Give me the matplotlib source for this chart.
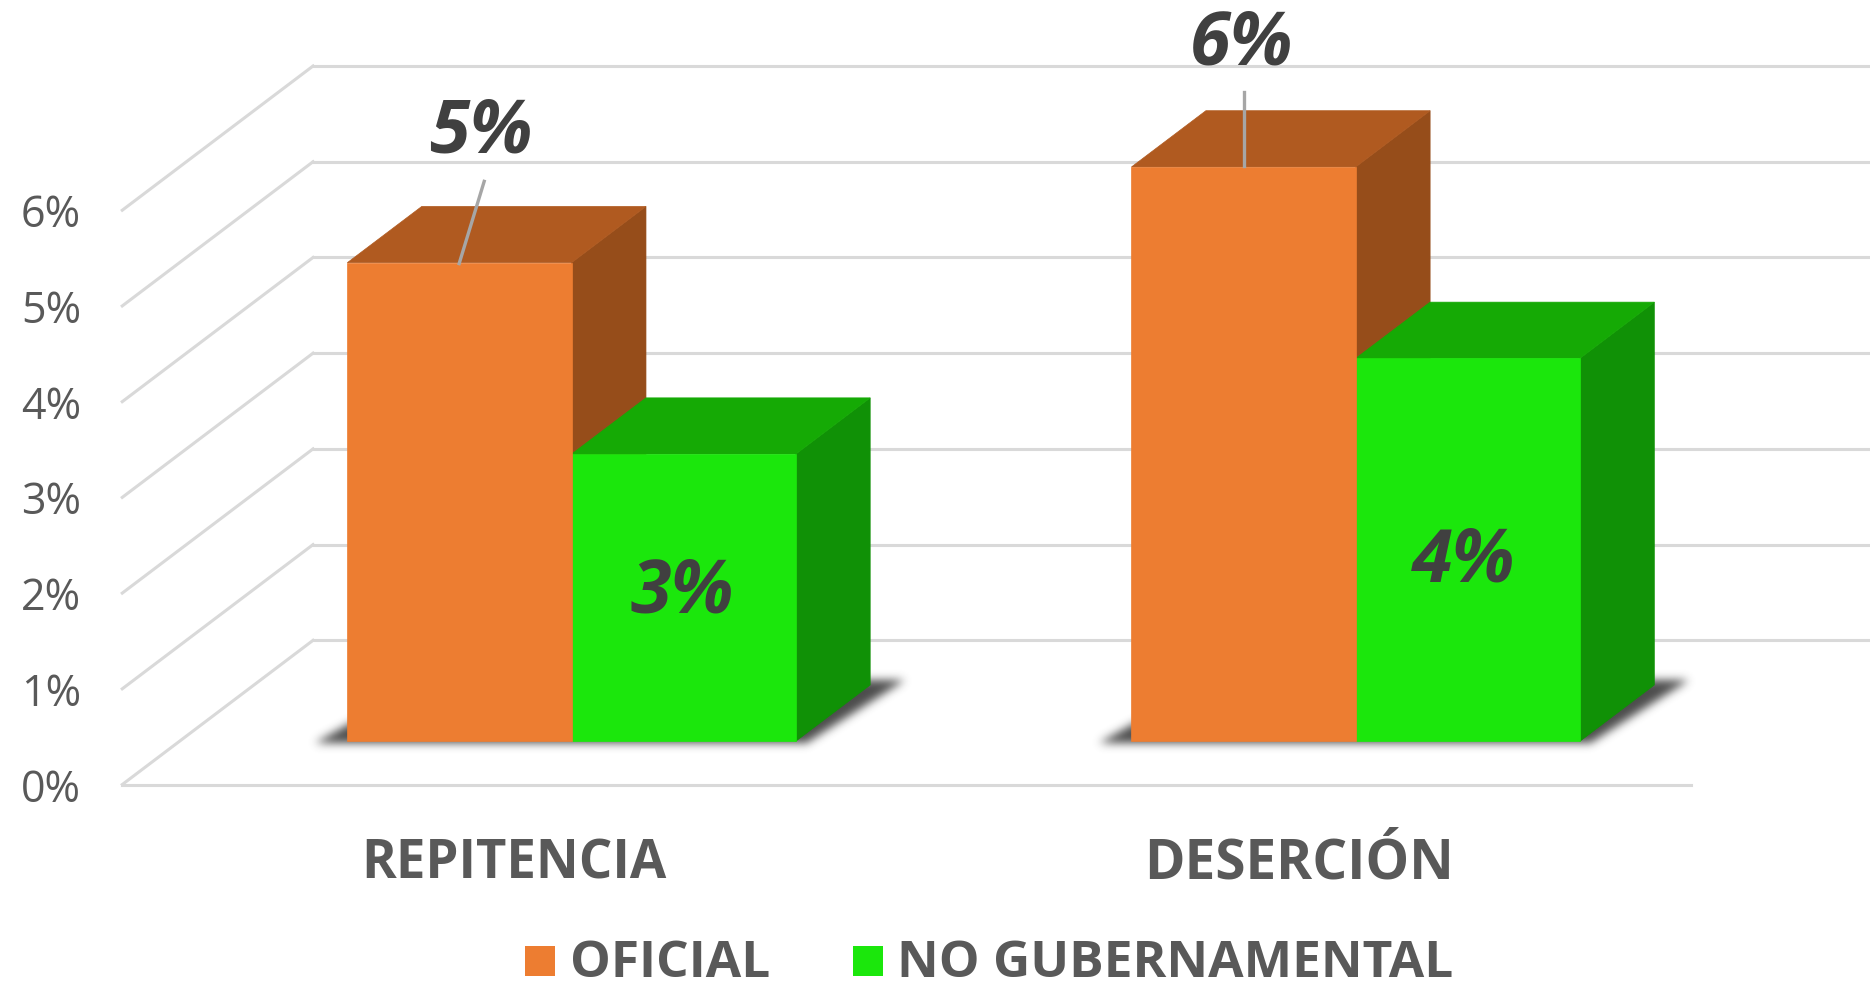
import numpy as np
import matplotlib
matplotlib.use('Agg')
import matplotlib.pyplot as plt
from matplotlib.patches import Polygon
from matplotlib.path import Path

categories = ['REPITENCIA', 'DESERCIÓN']
series_names = ['OFICIAL', 'NO GUBERNAMENTAL']
oficial = [5, 6]
no_gub = [3, 4]
y_ticks = [0, 1, 2, 3, 4, 5, 6]

W, H = 1870, 987
# pixel sizes of one unit, measured on the 1568 wide reference
PX_X = 657.5
PX_Y = 80.3
X0, Y0 = 102.5, 659.0
DEPTH_X = 160.0 / PX_X
DEPTH_Y = 121.0 / PX_Y
BAR_W = 188.0 / PX_X
BAR_Z0 = 0.30
BAR_Z1 = 0.69

FONT = 'Open Sans'
GRID = '#d9d9d9'
TEXT = '#595959'
LABEL = '#404040'
ORANGE = ('#ed7d31', '#b05a20', '#964d1a')
GREEN = ('#1be70c', '#15aa05', '#109106')


def proj(x, y, z):
    return (x + z * DEPTH_X, y + z * DEPTH_Y)


def px(x, y):
    # reference pixel to data position, used for text placement
    return ((x - X0) / PX_X, (Y0 - y) / PX_Y)


def box_back(ax, x, v, colors, zorder):
    b = proj(x + BAR_W, 0, BAR_Z0)
    c = proj(x + BAR_W, v, BAR_Z0)
    d = proj(x, v, BAR_Z0)
    e = proj(x + BAR_W, 0, BAR_Z1)
    f = proj(x + BAR_W, v, BAR_Z1)
    g = proj(x, v, BAR_Z1)
    ax.add_patch(Polygon([b, e, f, c], fc=colors[2], ec=colors[2], lw=0.5, zorder=zorder))
    ax.add_patch(Polygon([d, c, f, g], fc=colors[1], ec=colors[1], lw=0.5, zorder=zorder))


def box_front(ax, x, v, colors, zorder):
    pts = [proj(x, 0, BAR_Z0), proj(x + BAR_W, 0, BAR_Z0),
           proj(x + BAR_W, v, BAR_Z0), proj(x, v, BAR_Z0)]
    ax.add_patch(Polygon(pts, fc=colors[0], ec=colors[0], lw=0.5, zorder=zorder))


def shadow(ax, c):
    # soft shadow on the floor: polygon mask, gaussian blur, drawn as an image
    left = c - BAR_W
    right = c + BAR_W
    y_front = proj(0, 0, BAR_Z0)[1] - 2 / PX_Y
    y_back = proj(0, 0, 0.72)[1]
    pts = [(proj(left, 0, BAR_Z0)[0] - 27 / PX_X, y_front),
           (proj(right, 0, BAR_Z0)[0] + 9 / PX_X, y_front),
           (proj(right, 0, 0.72)[0] + 24 / PX_X, y_back),
           (proj(left, 0, 0.72)[0], y_back)]
    pad_x, pad_y = 25 / PX_X, 25 / PX_Y
    x0 = pts[0][0] - pad_x
    x1 = pts[2][0] + pad_x
    y0 = y_front - pad_y
    y1 = y_back + pad_y
    nx = int((x1 - x0) * PX_X * 1.2)
    ny = int((y1 - y0) * PX_Y * 1.2)
    gx, gy = np.meshgrid(np.linspace(x0, x1, nx), np.linspace(y0, y1, ny))
    inside = Path(pts).contains_points(np.c_[gx.ravel(), gy.ravel()]).reshape(ny, nx)
    mask = inside.astype(float)
    k = np.exp(-np.arange(-12, 13) ** 2 / (2 * 4.5 ** 2))
    k /= k.sum()
    mask = np.apply_along_axis(lambda r: np.convolve(r, k, mode='same'), 0, mask)
    mask = np.apply_along_axis(lambda r: np.convolve(r, k, mode='same'), 1, mask)
    rgba = np.zeros((ny, nx, 4))
    rgba[..., :3] = 0.22
    rgba[..., 3] = mask * 0.9
    ax.imshow(rgba, extent=(x0, x1, y0, y1), origin='lower', aspect='auto',
              interpolation='bilinear', zorder=2)


fig = plt.figure(figsize=(W / 100, H / 100), dpi=100)
ax = fig.add_axes([0, 0, 1, 1])

right_edge = (1568 - X0) / PX_X
for t in y_ticks:
    p = proj(0, t, 0)
    q = proj(0, t, 1)
    ax.plot([p[0], q[0]], [p[1], q[1]], color=GRID, lw=2.2, zorder=1)
    ax.plot([q[0], right_edge], [q[1], q[1]], color=GRID, lw=2.2, zorder=1)
    ax.text(-34.5 / PX_X, t - 0.05, '%d%%' % t, color=TEXT, fontsize=31, family=FONT,
            ha='right', va='center')
p = proj(0, 0, 0)
ax.plot([p[0], 2], [p[1], p[1]], color=GRID, lw=2.2, zorder=1)

# text placed by eye in reference pixels
oficial_pos = [(403, 112), (1041, 38)]
no_gub_pos = [(572, 498), (1227, 472)]
leader_tops = [(406, 153), (1043, 78)]
leader_ends = [(385, 222), (1043, 140)]
cat_pos = [(431, 725), (1089, 725)]
cat_size = [38, 39.5]

for i in range(len(categories)):
    c = i + 0.5
    shadow(ax, c)
    box_back(ax, c - BAR_W, oficial[i], ORANGE, 3)
    box_back(ax, c, no_gub[i], GREEN, 4)
    box_front(ax, c, no_gub[i], GREEN, 5)
    box_front(ax, c - BAR_W, oficial[i], ORANGE, 5)

    a = px(*oficial_pos[i])
    ax.text(a[0], a[1], '%d%%' % oficial[i], color=LABEL, fontsize=53, fontweight='bold',
            fontstyle='italic', family=FONT, ha='center', va='center', zorder=7)
    a = px(*no_gub_pos[i])
    ax.text(a[0], a[1], '%d%%' % no_gub[i], color=LABEL, fontsize=53, fontweight='bold',
            fontstyle='italic', family=FONT, ha='center', va='center', zorder=7)
    a = px(*leader_tops[i])
    b = px(*leader_ends[i])
    ax.plot([a[0], b[0]], [a[1], b[1]], color='#a6a6a6', lw=2.4, zorder=6)
    a = px(*cat_pos[i])
    ax.text(a[0], a[1], categories[i], color=TEXT, fontsize=cat_size[i], fontweight='bold',
            family=FONT, ha='center', va='center')

# legend
sq_x = [453, 728]
tx_x = [478, 752]
leg_colors = [ORANGE[0], GREEN[0]]
for k in range(2):
    a = px(sq_x[k], 807)
    ax.scatter([a[0]], [a[1]], s=466, marker='s', color=leg_colors[k], lw=0, zorder=5)
    a = px(tx_x[k], 809)
    ax.text(a[0], a[1], series_names[k], color=TEXT, fontsize=37, fontweight='bold',
            family=FONT, ha='left', va='center')

ax.set_xlim(-X0 / PX_X, (1568 - X0) / PX_X)
ax.set_ylim((Y0 - 828) / PX_Y, Y0 / PX_Y)
ax.axis('off')

fig.savefig('out.png', dpi=100)
